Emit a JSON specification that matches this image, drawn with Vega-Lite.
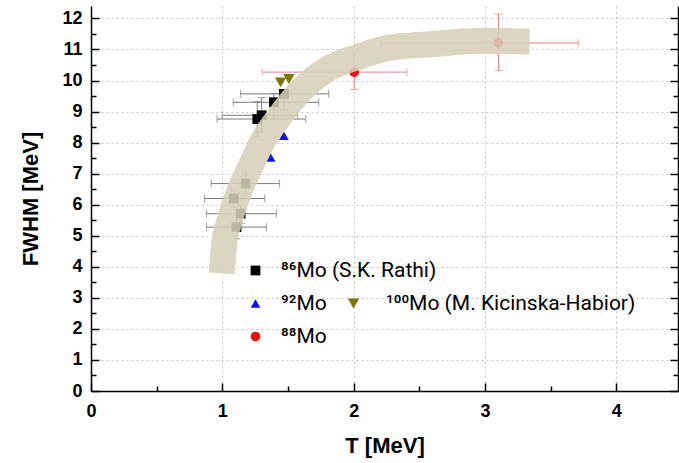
{
  "$schema": "https://vega.github.io/schema/vega-lite/v6.json",
  "width": 587,
  "height": 385,
  "autosize": {"type": "none"},
  "padding": {"left": 91, "top": 6, "right": 1, "bottom": 72},
  "background": "white",
  "config": {
    "view": {"stroke": null},
    "axis": {"labelFont": "Liberation Sans", "titleFont": "Liberation Sans", "labelColor": "black", "titleColor": "black", "domainColor": "black", "tickColor": "black"},
    "legend": {"labelFont": "Roboto", "labelColor": "black", "labelLimit": 0}
  },
  "datasets": {
    "pts": [
      {"iso": "86Mo", "series": "⁸⁶Mo (S.K. Rathi)", "T": 1.266, "F": 8.76, "Tlo": 0.96, "Thi": 1.635, "Flo": 8.2, "Fhi": 9.32},
      {"iso": "86Mo", "series": "⁸⁶Mo (S.K. Rathi)", "T": 1.30, "F": 8.88, "Tlo": 0.999, "Thi": 1.572, "Flo": 8.35, "Fhi": 9.45},
      {"iso": "86Mo", "series": "⁸⁶Mo (S.K. Rathi)", "T": 1.393, "F": 9.30, "Tlo": 1.083, "Thi": 1.734, "Flo": 8.75, "Fhi": 9.58},
      {"iso": "86Mo", "series": "⁸⁶Mo (S.K. Rathi)", "T": 1.469, "F": 9.57, "Tlo": 1.139, "Thi": 1.81, "Flo": 9.05, "Fhi": 9.7},
      {"iso": "86Mo", "series": "⁸⁶Mo (S.K. Rathi)", "T": 1.177, "F": 6.68, "Tlo": 0.915, "Thi": 1.436, "Flo": 6.35, "Fhi": 7.05},
      {"iso": "86Mo", "series": "⁸⁶Mo (S.K. Rathi)", "T": 1.087, "F": 6.20, "Tlo": 0.864, "Thi": 1.324, "Flo": 5.9, "Fhi": 6.5},
      {"iso": "86Mo", "series": "⁸⁶Mo (S.K. Rathi)", "T": 1.139, "F": 5.71, "Tlo": 0.879, "Thi": 1.411, "Flo": 5.4, "Fhi": 6.0},
      {"iso": "86Mo", "series": "⁸⁶Mo (S.K. Rathi)", "T": 1.108, "F": 5.28, "Tlo": 0.879, "Thi": 1.337, "Flo": 4.9, "Fhi": 5.6},
      {"iso": "92Mo", "series": "⁹²Mo", "T": 1.469, "F": 8.22},
      {"iso": "92Mo", "series": "⁹²Mo", "T": 1.368, "F": 7.52},
      {"iso": "100Mo", "series": "¹⁰⁰Mo (M. Kicinska-Habior)", "T": 1.444, "F": 9.94},
      {"iso": "100Mo", "series": "¹⁰⁰Mo (M. Kicinska-Habior)", "T": 1.507, "F": 10.05},
      {"iso": "88Mo", "series": "⁸⁸Mo", "T": 2.004, "F": 10.27, "Tlo": 1.304, "Thi": 2.406, "Flo": 9.71, "Fhi": 10.92},
      {"iso": "88Mo", "series": "⁸⁸Mo", "T": 3.103, "F": 11.21, "Tlo": 2.208, "Thi": 3.71, "Flo": 10.32, "Fhi": 12.14}
    ],
    "band": [
      {"T": 0.997, "F": 3.79},
      {"T": 1.016, "F": 4.82},
      {"T": 1.047, "F": 5.37},
      {"T": 1.131, "F": 6.44},
      {"T": 1.245, "F": 7.51},
      {"T": 1.307, "F": 8.06},
      {"T": 1.413, "F": 8.71},
      {"T": 1.620, "F": 9.77},
      {"T": 1.811, "F": 10.39},
      {"T": 2.032, "F": 10.76},
      {"T": 2.261, "F": 11.05},
      {"T": 2.589, "F": 11.17},
      {"T": 2.971, "F": 11.28},
      {"T": 3.34, "F": 11.26}
    ]
  },
  "resolve": {"axis": {"x": "independent", "y": "independent"}},
  "layer": [
    {
      "data": {"name": "pts"},
      "mark": {"type": "rule", "strokeWidth": 1},
      "encoding": {
        "x": {"field": "Tlo", "type": "quantitative", "scale": {"domain": [0, 4.47], "nice": false, "zero": false},
          "axis": {"orient": "bottom", "title": "T [MeV]", "values": [0, 1, 2, 3, 4], "ticks": false, "domain": true, "domainWidth": 1.5, "grid": true, "gridColor": "#c4c4c4", "gridDash": [2, 3], "gridWidth": 1, "labelFontSize": 18, "labelFontWeight": "bold", "labelPadding": 11, "labelFlush": false, "labelOverlap": false, "titleFontSize": 22, "titleFontWeight": "bold", "titlePadding": 15}},
        "x2": {"field": "Thi"},
        "y": {"field": "F", "type": "quantitative", "scale": {"domain": [0, 12.4], "nice": false, "zero": false},
          "axis": {"orient": "left", "title": "FWHM [MeV]", "values": [0, 1, 2, 3, 4, 5, 6, 7, 8, 9, 10, 11, 12], "ticks": false, "domain": true, "domainWidth": 1.5, "grid": true, "gridColor": "#c4c4c4", "gridDash": [2, 3], "gridWidth": 1, "labelFontSize": 18, "labelFontWeight": "bold", "labelPadding": 9, "labelFlush": false, "labelOverlap": false, "titleFontSize": 22, "titleFontWeight": "bold", "titlePadding": 19}},
        "color": {"condition": {"test": "datum.iso === '88Mo'", "value": "#e08585"}, "value": "#7a7a7a"}
      }
    },
    {
      "data": {"name": "pts"},
      "transform": [{"fold": ["Tlo", "Thi"], "as": ["k", "v"]}],
      "mark": {"type": "tick", "orient": "vertical", "size": 8, "thickness": 1},
      "encoding": {
        "x": {"field": "v", "type": "quantitative", "scale": {"domain": [0, 4.47], "nice": false, "zero": false},
          "axis": {"orient": "bottom", "title": null, "values": [0, 0.5, 1, 1.5, 2, 2.5, 3, 3.5, 4], "labels": false, "domain": false, "grid": false, "ticks": true, "tickWidth": 1.5, "tickSize": {"condition": {"test": "datum.value % 1 === 0", "value": -8}, "value": -5}}},
        "y": {"field": "F", "type": "quantitative", "scale": {"domain": [0, 12.4], "nice": false, "zero": false},
          "axis": {"orient": "left", "title": null, "values": [0, 0.5, 1, 1.5, 2, 2.5, 3, 3.5, 4, 4.5, 5, 5.5, 6, 6.5, 7, 7.5, 8, 8.5, 9, 9.5, 10, 10.5, 11, 11.5, 12], "labels": false, "domain": false, "grid": false, "ticks": true, "tickWidth": 1.5, "tickSize": {"condition": {"test": "datum.value % 1 === 0", "value": -8}, "value": -5}}},
        "color": {"condition": {"test": "datum.iso === '88Mo'", "value": "#e08585"}, "value": "#7a7a7a"}
      }
    },
    {
      "data": {"name": "pts"},
      "mark": {"type": "rule", "strokeWidth": 1},
      "encoding": {
        "x": {"field": "T", "type": "quantitative", "scale": {"domain": [0, 4.47], "nice": false, "zero": false}, "axis": null},
        "y": {"field": "Flo", "type": "quantitative", "scale": {"domain": [0, 12.4], "nice": false, "zero": false},
          "axis": {"orient": "right", "title": null, "values": [0, 0.5, 1, 1.5, 2, 2.5, 3, 3.5, 4, 4.5, 5, 5.5, 6, 6.5, 7, 7.5, 8, 8.5, 9, 9.5, 10, 10.5, 11, 11.5, 12], "labels": false, "domain": true, "domainWidth": 1.5, "grid": false, "ticks": true, "tickWidth": 1.5, "tickSize": {"condition": {"test": "datum.value % 1 === 0", "value": -8}, "value": -5}}},
        "y2": {"field": "Fhi"},
        "color": {"condition": {"test": "datum.iso === '88Mo'", "value": "#e08585"}, "value": "#7a7a7a"}
      }
    },
    {
      "data": {"name": "pts"},
      "transform": [{"fold": ["Flo", "Fhi"], "as": ["k", "v"]}],
      "mark": {"type": "tick", "orient": "horizontal", "size": 8, "thickness": 1},
      "encoding": {
        "x": {"field": "T", "type": "quantitative", "scale": {"domain": [0, 4.47], "nice": false, "zero": false}, "axis": null},
        "y": {"field": "v", "type": "quantitative", "scale": {"domain": [0, 12.4], "nice": false, "zero": false}, "axis": null},
        "color": {"condition": {"test": "datum.iso === '88Mo'", "value": "#e08585"}, "value": "#7a7a7a"}
      }
    },
    {
      "data": {"name": "pts"},
      "transform": [{"filter": "datum.iso !== '100Mo'"}],
      "mark": {"type": "point", "filled": true, "size": 95, "opacity": 1},
      "encoding": {
        "x": {"field": "T", "type": "quantitative", "scale": {"domain": [0, 4.47], "nice": false, "zero": false}, "axis": null},
        "y": {"field": "F", "type": "quantitative", "scale": {"domain": [0, 12.4], "nice": false, "zero": false}, "axis": null},
        "color": {"field": "series", "type": "nominal", "scale": {"domain": ["⁸⁶Mo (S.K. Rathi)", "⁹²Mo", "⁸⁸Mo"], "range": ["#000000", "#1010ee", "#ee1111"]},
          "legend": {"orient": "none", "legendX": 154, "legendY": 254, "title": null, "labelFontSize": 21, "symbolSize": 95, "symbolStrokeWidth": 0, "rowPadding": 11, "labelOffset": 15, "padding": 0}},
        "shape": {"field": "series", "type": "nominal", "scale": {"domain": ["⁸⁶Mo (S.K. Rathi)", "⁹²Mo", "⁸⁸Mo"], "range": ["square", "triangle-up", "circle"]},
          "legend": {"orient": "none", "legendX": 154, "legendY": 254, "title": null, "labelFontSize": 21, "symbolSize": 95, "symbolStrokeWidth": 0, "rowPadding": 11, "labelOffset": 15, "padding": 0}}
      }
    },
    {
      "data": {"name": "pts"},
      "transform": [{"filter": "datum.iso === '100Mo'"}],
      "mark": {"type": "point", "filled": true, "size": 130, "shape": "triangle-down", "opacity": 1},
      "encoding": {
        "x": {"field": "T", "type": "quantitative", "scale": {"domain": [0, 4.47], "nice": false, "zero": false}, "axis": null},
        "y": {"field": "F", "type": "quantitative", "scale": {"domain": [0, 12.4], "nice": false, "zero": false}, "axis": null},
        "fill": {"field": "series", "type": "nominal", "scale": {"range": ["#78780e"]},
          "legend": {"orient": "none", "legendX": 252, "legendY": 287, "title": null, "labelFontSize": 21, "symbolType": "triangle-down", "symbolSize": 130, "symbolStrokeWidth": 0, "labelOffset": 22, "padding": 0}}
      }
    },
    {
      "data": {"name": "band"},
      "mark": {"type": "line", "color": "#d6cfb9", "strokeWidth": 26, "strokeCap": "butt", "strokeJoin": "round", "opacity": 0.88, "interpolate": "monotone"},
      "encoding": {
        "x": {"field": "T", "type": "quantitative", "scale": {"domain": [0, 4.47], "nice": false, "zero": false}, "axis": null},
        "y": {"field": "F", "type": "quantitative", "scale": {"domain": [0, 12.4], "nice": false, "zero": false}, "axis": null}
      }
    }
  ]
}
